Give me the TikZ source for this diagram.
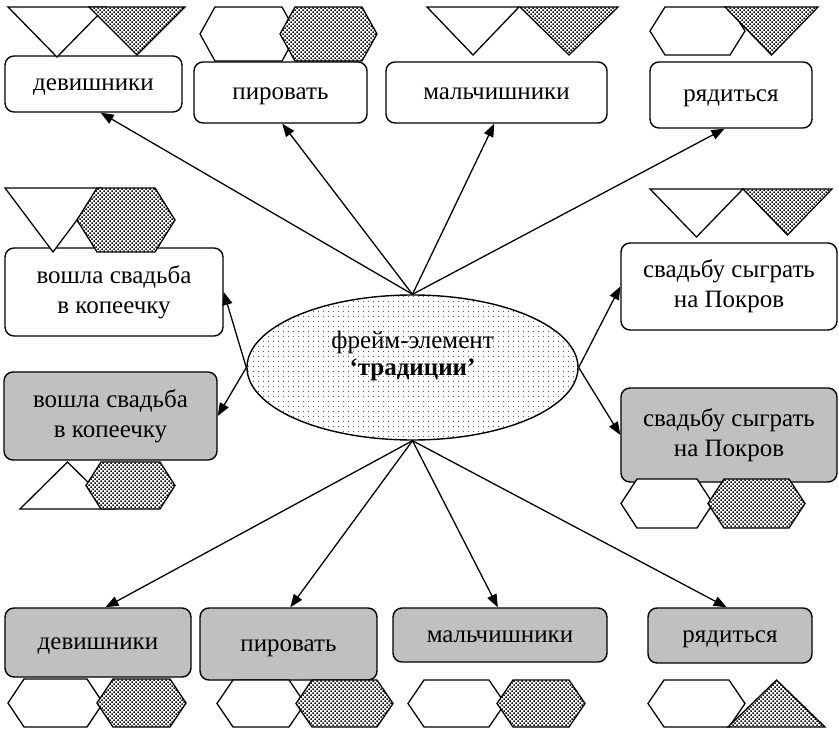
\documentclass[tikz,border=0pt]{standalone}
\usepackage{fontspec}
\setmainfont{Liberation Serif}
\usetikzlibrary{shapes.geometric,arrows.meta,calc}

\definecolor{boxgrey}{RGB}{192,192,192}

% outlines of the marker shapes: x left, x right, y top, y bottom (, inset)
\newcommand\hexpath[5]{(#1,{(#3+#4)/2}) -- ({#1+#5},#3) -- ({#2-#5},#3)
  -- (#2,{(#3+#4)/2}) -- ({#2-#5},#4) -- ({#1+#5},#4) -- cycle}
\newcommand\dnpath[4]{(#1,#3) -- (#2,#3) -- ({(#1+#2)/2},#4) -- cycle}
\newcommand\uppath[4]{({(#1+#2)/2},#3) -- (#2,#4) -- (#1,#4) -- cycle}

% dense black stipple starting at a given top-left corner
\newcommand\stipfield[2]{%
  \fill \foreach \i in {0,...,24} {\foreach \j in {0,...,16}
    {({#1+4*\i+0.3},{#2+4*\j+0.3}) rectangle ++(1.5,1.5)
     ({#1+4*\i+2.3},{#2+4*\j+2.3}) rectangle ++(1.5,1.5)}};}

% white markers
\newcommand\hexa[5]{\path[blank] \hexpath{#1}{#2}{#3}{#4}{#5};}
\newcommand\trdown[4]{\path[blank] \dnpath{#1}{#2}{#3}{#4};}
\newcommand\trup[4]{\path[blank] \uppath{#1}{#2}{#3}{#4};}
% stippled markers
\newcommand\dothexa[5]{%
  \fill[white] \hexpath{#1}{#2}{#3}{#4}{#5};
  \begin{scope}\clip \hexpath{#1}{#2}{#3}{#4}{#5}; \stipfield{#1}{#3}\end{scope}
  \draw[outline] \hexpath{#1}{#2}{#3}{#4}{#5};}
\newcommand\dottrdown[4]{%
  \fill[white] \dnpath{#1}{#2}{#3}{#4};
  \begin{scope}\clip \dnpath{#1}{#2}{#3}{#4}; \stipfield{#1}{#3}\end{scope}
  \draw[outline] \dnpath{#1}{#2}{#3}{#4};}
\newcommand\dottrup[4]{%
  \fill[white] \uppath{#1}{#2}{#3}{#4};
  \begin{scope}\clip \uppath{#1}{#2}{#3}{#4}; \stipfield{#1}{#3}\end{scope}
  \draw[outline] \uppath{#1}{#2}{#3}{#4};}

\tikzset{
  box/.style={draw, line width=1.4pt, rounded corners=9pt,
    inner sep=0pt, font=\fontsize{25}{30}\selectfont},
  oneline/.style={text height=14pt, text depth=0pt},
  twolines/.style={align=center},
  plainbox/.style={box, fill=white},
  greybox/.style={box, fill=boxgrey},
  link/.style={line width=1.3pt, -{Triangle[length=13pt,width=10pt]}},
  outline/.style={draw, line width=1.3pt},
  blank/.style={outline, fill=white},
}

\begin{document}
\begin{tikzpicture}[x=1pt,y=-1pt]
\useasboundingbox[fill=white] (0,0) rectangle (839,730);

% central frame element with a sparse dot fill
\node[ellipse, draw, line width=1.4pt, fill=white,
  minimum width=331pt, minimum height=145pt] (ell) at (412.5,367.5) {};
\begin{scope}
  \clip (ell.center) ellipse (164.6 and 71.6);
  \fill[black!65] \foreach \i in {0,...,66} {\foreach \j in {0,...,29}
    {({248+5*\i},{296+5*\j}) rectangle ++(0.95,0.95)}};
\end{scope}
\node[font=\fontsize{25}{27}\selectfont, align=center] (ellText) at (412.5,356)
  {фрейм-элемент\\\textbf{‘традиции’}};

% top row
\node[plainbox, oneline, minimum width=177pt, minimum height=56pt] (devT) at (93.5,84) {девишники};
\node[plainbox, oneline, minimum width=173pt, minimum height=61pt] (pirT) at (280.5,92.5) {пировать};
\node[plainbox, oneline, minimum width=221pt, minimum height=61pt] (malT) at (496.5,92.5) {мальчишники};
\node[plainbox, oneline, minimum width=162pt, minimum height=66pt] (ryaT) at (731,95) {рядиться};

% left column
\node[plainbox, twolines, minimum width=218pt, minimum height=88pt] (vshW) at (114,292) {вошла свадьба\\в копеечку};
\node[greybox, twolines, minimum width=213pt, minimum height=88pt] (vshG) at (110.5,416) {вошла свадьба\\в копеечку};

% right column
\node[plainbox, twolines, minimum width=216pt, minimum height=87pt] (svW) at (729,286.5) {свадьбу сыграть\\на Покров};
\node[greybox, twolines, minimum width=216pt, minimum height=94pt] (svG) at (729,435) {свадьбу сыграть\\на Покров};

% bottom row
\node[greybox, oneline, minimum width=186pt, minimum height=69pt] (devB) at (98,642.5) {девишники};
\node[greybox, oneline, minimum width=177pt, minimum height=72pt] (pirB) at (288.5,644) {пировать};
\node[greybox, oneline, minimum width=214pt, minimum height=54pt] (malB) at (500,635) {мальчишники};
\node[greybox, oneline, minimum width=164pt, minimum height=55pt] (ryaB) at (730,635.5) {рядиться};

% connectors
\draw[link] (ell.north) -- ($(devT.south west)!0.54!(devT.south east)$);
\draw[link] (ell.north) -- ($(pirT.south west)!0.51!(pirT.south east)$);
\draw[link] (ell.north) -- ($(malT.south west)!0.49!(malT.south east)$);
\draw[link] (ell.north) -- ($(ryaT.south west)!0.46!(ryaT.south east)$);
\draw[link] (ell.west) -- (vshW.east);
\draw[link] (ell.west) -- (vshG.east);
\draw[link] (ell.east) -- (svW.west);
\draw[link] (ell.east) -- (svG.west);
\draw[link] (ell.south) -- ($(devB.north west)!0.54!(devB.north east)$);
\draw[link] (ell.south) -- ($(pirB.north west)!0.51!(pirB.north east)$);
\draw[link] (ell.south) -- ($(malB.north west)!0.49!(malB.north east)$);
\draw[link] (ell.south) -- ($(ryaB.north west)!0.48!(ryaB.north east)$);

% markers above the top row
\trdown{8}{106}{7}{57}
\dottrdown{89}{185}{7}{55}
\hexa{200}{297}{7}{61}{15}
\dothexa{280}{377}{7}{61}{15}
\trdown{427}{519}{7}{55}
\dottrdown{520}{618}{7}{55}
\hexa{650}{745}{7}{55}{15}
\dottrdown{725}{818}{7}{55}

% markers of the left column
\trdown{5}{101}{188}{252}
\dothexa{77}{175}{188}{252}{20}
\trup{20}{115}{462}{509}
\dothexa{86}{175}{462}{509}{15}

% markers of the right column
\trdown{650}{743}{189}{237}
\dottrdown{743}{832}{189}{235}
\hexa{621}{713}{479}{528}{16}
\dothexa{708}{805}{479}{528}{16}

% markers below the bottom row
\hexa{8}{103}{679}{727}{16}
\dothexa{97}{186}{679}{727}{16}
\hexa{217}{305}{680}{727}{16}
\dothexa{296}{393}{680}{727}{16}
\hexa{408}{505}{680}{727}{16}
\dothexa{497}{585}{680}{727}{16}
\hexa{648}{745}{680}{727}{16}
\dottrup{728}{825}{680}{727}
\end{tikzpicture}
\end{document}
